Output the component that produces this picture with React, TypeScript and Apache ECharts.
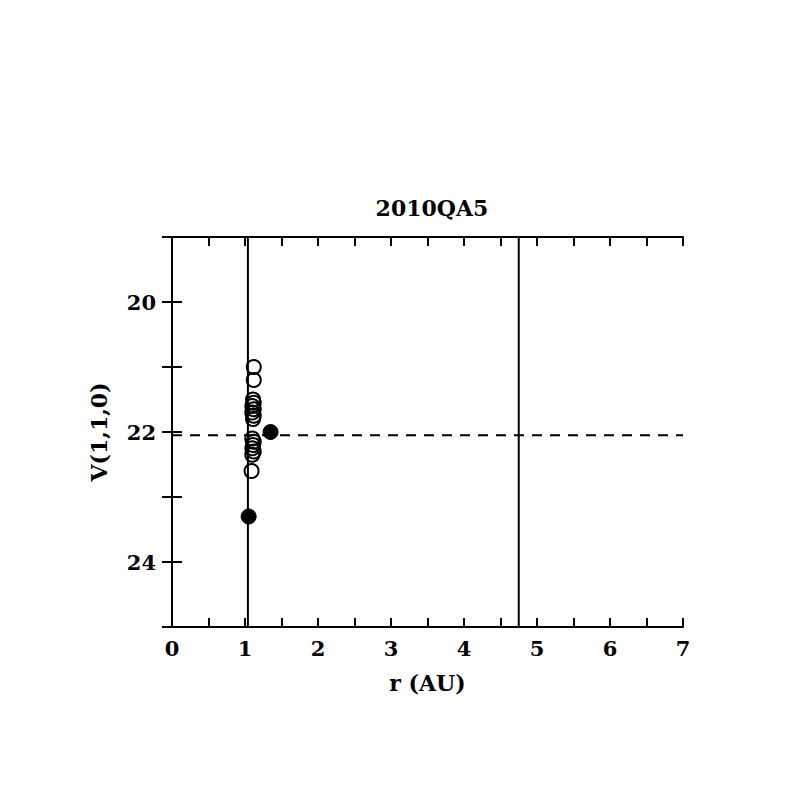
import React, { useEffect, useRef } from "react";
import * as echarts from "echarts";

const title = "2010QA5";
const xName = "r (AU)";
const yName = "V(1,1,0)";

const openPoints: [number, number][] = [
  [1.12, 21.0], [1.12, 21.2], [1.11, 21.5], [1.12, 21.55], [1.10, 21.6],
  [1.12, 21.65], [1.10, 21.7], [1.12, 21.75], [1.11, 21.8], [1.10, 22.1],
  [1.12, 22.15], [1.11, 22.2], [1.10, 22.25], [1.12, 22.3], [1.10, 22.35],
  [1.09, 22.6],
];
const filledPoints: [number, number][] = [
  [1.05, 23.3], [1.35, 22.0],
];
const perihelion = 1.04;
const aphelion = 4.75;
const meanMag = 22.05;
const xRange = [0, 7];
const yRange = [19, 25];

const font = "DejaVu Serif";

export default function App() {
  const ref = useRef<HTMLDivElement>(null);
  useEffect(() => {
    if (!ref.current) return;
    const chart = echarts.init(ref.current, null, { renderer: "svg" });
    const axisLine = { show: true, lineStyle: { color: "#000", width: 2 } };
    const label = { color: "#000", fontFamily: font, fontWeight: "bold" as const, fontSize: 21 };
    chart.setOption({
      animation: false,
      backgroundColor: "#fff",
      title: {
        text: title,
        left: 427,
        textAlign: "center",
        top: 192,
        textStyle: { ...label, fontSize: 22 },
      },
      grid: { left: 172, right: 114, top: 237, bottom: 170 },
      xAxis: [
        {
          type: "value", min: xRange[0], max: xRange[1], interval: 1,
          position: "bottom",
          axisLine, splitLine: { show: false },
          axisTick: { show: true, inside: true, length: 9, lineStyle: { color: "#000", width: 2 } },
          minorTick: { show: true, splitNumber: 2, length: 9, lineStyle: { color: "#000", width: 2 } },
          axisLabel: { ...label, margin: 11 },
          name: xName, nameLocation: "middle", nameGap: 45,
          nameTextStyle: { ...label, fontSize: 22 },
        },
        {
          type: "value", min: xRange[0], max: xRange[1], interval: 1,
          position: "top",
          axisLine, splitLine: { show: false },
          axisTick: { show: true, inside: true, length: 9, lineStyle: { color: "#000", width: 2 } },
          minorTick: { show: true, splitNumber: 2, length: 9, lineStyle: { color: "#000", width: 2 } },
          axisLabel: { show: false },
        },
      ],
      yAxis: [
        {
          type: "value", min: yRange[0], max: yRange[1], interval: 1, inverse: true,
          position: "left",
          axisLine, splitLine: { show: false },
          axisTick: { show: true, inside: true, length: 10, lineStyle: { color: "#000", width: 2 } },
          axisLabel: {
            ...label, margin: 16,
            formatter: (v: number) => (v % 2 === 0 ? String(v) : ""),
          },
          name: yName, nameLocation: "middle", nameGap: 62, nameRotate: 90,
          nameTextStyle: { ...label, fontSize: 22 },
        },
        {
          type: "value", min: yRange[0], max: yRange[1], interval: 1, inverse: true,
          position: "right",
          axisLine, splitLine: { show: false },
          axisTick: { show: true, inside: true, length: 10, lineStyle: { color: "#000", width: 2 } },
          axisLabel: { show: false },
        },
      ],
      series: [
        {
          type: "line", data: [[perihelion, yRange[0]], [perihelion, yRange[1]]],
          symbol: "none", lineStyle: { color: "#000", width: 2 }, silent: true,
        },
        {
          type: "line", data: [[aphelion, yRange[0]], [aphelion, yRange[1]]],
          symbol: "none", lineStyle: { color: "#000", width: 2 }, silent: true,
        },
        {
          type: "line", data: [[xRange[0], meanMag], [xRange[1], meanMag]],
          symbol: "none", lineStyle: { color: "#000", width: 2, type: [10, 8] }, silent: true,
        },
        {
          type: "scatter", data: openPoints, symbol: "circle", symbolSize: 14,
          itemStyle: { color: "rgba(255,255,255,0)", borderColor: "#000", borderWidth: 2, opacity: 1 },
        },
        {
          type: "scatter", data: filledPoints, symbol: "circle", symbolSize: 15,
          itemStyle: { color: "#000", borderColor: "#000", borderWidth: 1, opacity: 1 },
        },
      ],
    });
    return () => chart.dispose();
  }, []);
  return <div ref={ref} style={{ width: 797, height: 797, position: "absolute", left: 0, top: 0 }} />;
}
